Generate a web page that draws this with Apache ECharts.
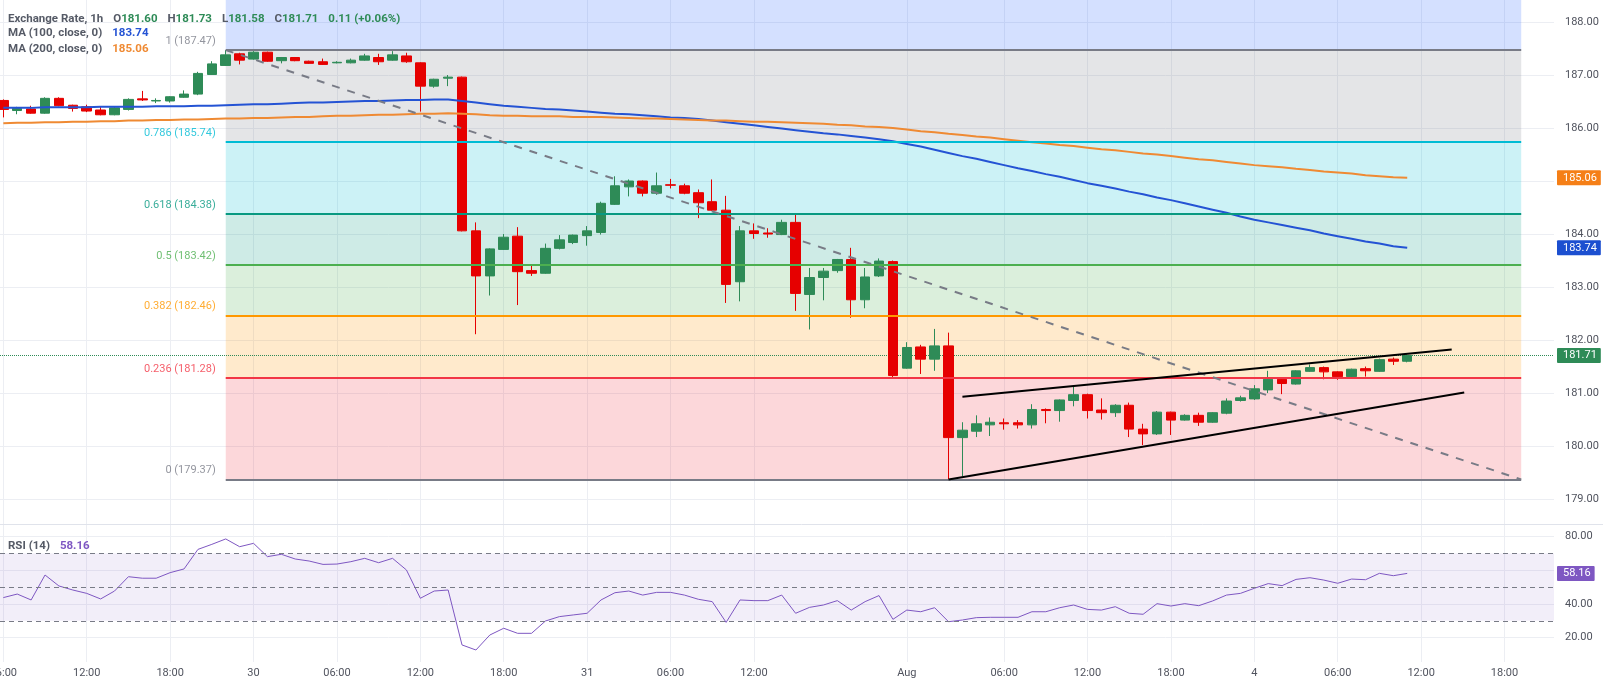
<!DOCTYPE html>
<html>
<head>
<meta charset="utf-8">
<script src="https://cdn.jsdelivr.net/npm/echarts@6/dist/echarts.min.js"></script>
<style>
html,body{margin:0;padding:0;background:#ffffff;}
#chart{width:1603px;height:682px;}
</style>
</head>
<body>
<div id="chart"></div>
<script>
// ---------- DATA ----------
const opens = [186.52,186.33,186.36,186.28,186.56,186.43,186.40,186.34,186.25,186.35,
186.55,186.51,186.51,186.58,186.64,187.01,187.18,187.40,187.30,187.43,
187.27,187.33,187.26,187.25,187.23,187.23,187.28,187.33,187.28,187.36,
187.23,186.79,186.94,186.96,184.06,183.21,183.71,183.96,183.31,183.26,
183.73,183.84,183.97,184.03,184.56,184.89,185.00,184.77,184.93,184.91,
184.78,184.61,184.45,183.10,184.06,184.02,183.99,184.22,182.86,183.18,
183.31,183.52,182.76,183.21,183.48,181.47,181.87,181.64,181.89,180.16,
180.28,180.40,180.44,180.44,180.40,180.69,180.67,180.86,180.97,180.68,
180.63,180.77,180.32,180.23,180.64,180.49,180.58,180.45,180.62,180.86,
180.89,181.06,181.26,181.17,181.41,181.48,181.40,181.31,181.46,181.41,
181.64,181.60];
const closes = [186.35,186.37,186.28,186.56,186.42,186.37,186.32,186.25,186.38,186.54,
186.53,186.52,186.59,186.64,187.03,187.21,187.38,187.28,187.43,187.26,
187.33,187.27,187.22,187.20,187.24,187.28,187.36,187.25,187.38,187.25,
186.79,186.92,186.96,184.06,183.21,183.72,183.94,183.29,183.26,183.73,
183.89,183.98,184.06,184.58,184.91,185.00,184.77,184.91,184.92,184.77,
184.59,184.45,183.05,184.06,184.01,184.00,184.22,182.88,183.18,183.30,
183.52,182.76,183.19,183.49,181.33,181.86,181.64,181.89,180.16,180.30,
180.42,180.45,180.42,180.40,180.69,180.67,180.87,180.97,180.67,180.63,
180.77,180.32,180.23,180.64,180.49,180.58,180.45,180.63,180.85,180.91,
181.08,181.26,181.18,181.42,181.48,181.40,181.31,181.45,181.42,181.63,
181.60,181.71];
const lows = [186.20,186.26,186.27,186.27,186.41,186.31,186.30,186.24,186.24,186.33,
186.51,186.47,186.48,186.57,186.62,187.00,187.17,187.20,187.29,187.25,
187.22,187.26,187.21,187.19,187.22,187.22,187.27,187.19,187.27,187.23,
186.31,186.76,186.79,184.05,182.11,182.84,183.70,182.66,183.21,183.25,
183.71,183.81,183.78,183.99,184.55,184.71,184.71,184.74,184.86,184.75,
184.30,184.44,182.70,182.73,183.91,183.93,183.98,182.55,182.20,182.75,
183.27,182.42,182.60,183.19,181.30,181.46,181.36,181.42,179.37,179.43,
180.17,180.19,180.31,180.33,180.33,180.43,180.46,180.75,180.52,180.50,
180.55,180.17,180.02,180.21,180.21,180.48,180.38,180.44,180.60,180.84,
180.87,181.00,180.98,181.16,181.40,181.26,181.25,181.28,181.31,181.40,
181.53,181.58];
const highs = [186.54,186.40,186.42,186.58,186.58,186.44,186.44,186.40,186.40,186.56,
186.70,186.56,186.60,186.71,187.06,187.26,187.47,187.42,187.45,187.44,
187.34,187.34,187.27,187.31,187.26,187.31,187.40,187.40,187.45,187.42,
187.24,186.93,187.00,186.97,184.22,183.73,184.00,184.13,183.40,183.82,
183.98,183.99,184.15,184.61,185.09,185.03,185.01,185.16,185.04,184.95,
184.84,185.03,184.72,184.15,184.20,184.11,184.27,184.36,183.36,183.36,
183.53,183.74,183.36,183.54,183.50,181.96,181.91,182.21,182.14,180.45,
180.58,180.54,180.52,180.49,180.79,180.71,180.88,181.13,180.99,180.90,
180.79,180.82,180.42,180.66,180.65,180.60,180.63,180.64,180.90,180.95,
181.15,181.42,181.29,181.43,181.54,181.50,181.41,181.46,181.50,181.65,
181.67,181.73];
const ma100 = [186.38,186.38,186.38,186.39,186.39,186.39,186.39,186.40,186.40,186.40,
186.40,186.41,186.41,186.41,186.42,186.42,186.43,186.44,186.45,186.45,
186.46,186.47,186.48,186.48,186.49,186.50,186.51,186.51,186.52,186.53,
186.53,186.54,186.54,186.51,186.48,186.45,186.42,186.40,186.38,186.36,
186.35,186.33,186.31,186.29,186.27,186.26,186.24,186.22,186.20,186.19,
186.17,186.14,186.11,186.08,186.05,186.02,185.99,185.96,185.93,185.90,
185.88,185.85,185.82,185.79,185.75,185.70,185.65,185.59,185.53,185.47,
185.42,185.36,185.30,185.24,185.19,185.13,185.08,185.02,184.96,184.91,
184.86,184.80,184.75,184.69,184.64,184.58,184.52,184.46,184.40,184.33,
184.27,184.22,184.17,184.12,184.07,184.01,183.96,183.91,183.86,183.82,
183.77,183.74];
const ma200 = [186.09,186.10,186.10,186.11,186.11,186.12,186.12,186.13,186.13,186.14,
186.14,186.15,186.15,186.16,186.16,186.17,186.18,186.18,186.19,186.19,
186.20,186.21,186.21,186.22,186.23,186.23,186.24,186.25,186.25,186.26,
186.27,186.27,186.28,186.27,186.26,186.24,186.23,186.23,186.22,186.22,
186.22,186.21,186.21,186.21,186.20,186.19,186.18,186.18,186.17,186.16,
186.15,186.14,186.14,186.13,186.12,186.12,186.11,186.10,186.09,186.08,
186.06,186.05,186.03,186.02,186.00,185.97,185.94,185.92,185.89,185.87,
185.84,185.82,185.79,185.76,185.73,185.71,185.68,185.66,185.63,185.60,
185.58,185.55,185.52,185.50,185.47,185.44,185.41,185.39,185.36,185.33,
185.30,185.28,185.26,185.23,185.21,185.18,185.16,185.14,185.11,185.09,
185.07,185.06];
const rsi14 = [43.8,45.9,42.4,57.2,50.7,48.3,46.3,43.0,47.7,56.2,
55.3,55.3,58.6,60.8,72.4,75.4,78.6,74.0,76.0,68.1,
69.5,66.7,65.5,63.5,63.7,65.1,67.1,64.5,67.1,60.2,
43.4,47.7,48.3,15.7,12.7,21.6,25.6,22.6,22.6,29.9,
32.5,33.5,34.5,42.4,46.7,47.7,45.3,46.9,46.9,45.3,
42.8,41.4,29.1,42.4,42.0,42.0,45.3,34.5,38.0,39.4,
42.0,36.4,41.4,45.0,30.9,36.4,35.4,37.8,29.5,30.5,
31.9,32.1,32.1,32.1,35.4,35.4,37.8,39.4,36.8,36.4,
38.4,34.5,33.9,40.2,38.8,40.2,39.0,41.8,45.3,46.3,
49.3,52.1,50.9,54.6,55.6,54.2,52.3,54.8,54.4,58.2,
56.8,58.16];

const timeTickBars   = [0,6,12,18,24,30,36,42,48,54,65,72,78,84,90,96,102,108];
const timeTickLabels = ['06:00','12:00','18:00','30','06:00','12:00','18:00','31','06:00','12:00','Aug','06:00','12:00','18:00','4','06:00','12:00','18:00'];
const priceGridTicks  = [179,180,181,182,183,184,185,186,187,188];
const priceLabelTicks = [179,180,181,182,183,184,186,187,188];
const rsiGridTicks  = [20,40,60,80];
const rsiLabelTicks = [20,40,80];
const rsiLevels = [70,50,30];

const fibRatios = [1,0.786,0.618,0.5,0.382,0.236,0];
const fibPrices = [187.47,185.74,184.38,183.42,182.46,181.28,179.37];
const fibExtRatio = 1.618, fibExtPrice = 192.48;
const fibStartBar = 16, fibEndBar = 109.2;
const fibDiagonal   = [[16,187.47],[109.2,179.37]];
const channelUpper  = [[69,180.93],[104.2,181.82]];
const channelLower  = [[68,179.37],[105.1,181.01]];

// ---------- STYLES / LAYOUT ----------
const UP = '#2e8b57', DOWN = '#e60000';
const C_MA100 = '#2453d4', C_MA200 = '#ef8a33', C_RSI = '#7e57c2';
const fibColors = ['#787b86','#00bcd4','#089981','#4caf50','#ff9800','#f23645','#787b86'];
const fibExtColor = '#2962ff';
const TXT = '#50535e', GRIDC = '#eceef3', FONT = 'Roboto';
const X_MIN = -0.24, X_MAX = 111.56;
const P_MIN = 178.53, P_MAX = 188.415;
const R_MIN = 5.58, R_MAX = 86.88;
const CLEAR = 'rgba(0,0,0,0)';

function rgba(hex, a){
  const n = parseInt(hex.slice(1),16);
  return `rgba(${(n>>16)&255},${(n>>8)&255},${n&255},${a})`;
}
const last = closes.length - 1;
const candles = opens.map((o,i)=>[i, o, closes[i], lows[i], highs[i]]);
const ma100Data = ma100.map((v,i)=>[i,v]);
const ma200Data = ma200.map((v,i)=>[i,v]);
const rsiData = rsi14.map((v,i)=>[i,v]);
const chg = closes[last] - closes[last-1];
const pct = chg / closes[last-1] * 100;

const areaBounds = [fibExtPrice].concat(fibPrices);
const areaColors = [fibExtColor].concat(fibColors);
const fibAreas = [];
for (let i = 0; i < areaBounds.length - 1; i++) {
  fibAreas.push([
    {coord:[fibStartBar, areaBounds[i]], itemStyle:{color: rgba(areaColors[i], 0.2)}},
    {coord:[fibEndBar, areaBounds[i+1]]}
  ]);
}
const fibLines = fibPrices.map((p,i)=>[
  {coord:[fibStartBar, p], lineStyle:{color: fibColors[i], width:2, type:'solid'}},
  {coord:[fibEndBar, p]}
]);

function tagLabel(bg, text){
  return {show:true, position:'end', distance:3, formatter: text,
    backgroundColor:bg, color:'#ffffff', fontSize:11, fontFamily:FONT,
    padding:[2,4,2,6], borderRadius:1};
}
function xAxisCfg(gi, withLabels){
  return {type:'value', gridIndex:gi, min:X_MIN, max:X_MAX,
    axisLine:{show:false}, axisTick:{show:false, customValues: timeTickBars},
    splitLine:{show:true, lineStyle:{color:GRIDC, width:1}},
    axisLabel: withLabels ? {customValues: timeTickBars, color:TXT, fontSize:11, fontFamily:FONT, margin:6,
      alignMinLabel:'center', alignMaxLabel:'center',
      formatter: v => { const k = timeTickBars.indexOf(Math.round(v)); return k >= 0 ? timeTickLabels[k] : ''; }}
      : {show:false}};
}

const chart = echarts.init(document.getElementById('chart'), null, {renderer:'canvas'});
const rich = {
  t:{color:'#555a66', fontSize:11.5, fontFamily:FONT},
  v:{color:UP, fontSize:11.5, fontFamily:FONT},
  b:{color:C_MA100, fontSize:11.5, fontFamily:FONT},
  o:{color:C_MA200, fontSize:11.5, fontFamily:FONT},
  p:{color:C_RSI, fontSize:11.5, fontFamily:FONT}
};
const f2 = v => v.toFixed(2);
chart.setOption({
  animation:false,
  backgroundColor:'#ffffff',
  title:[
    {left:3, top:5, textStyle:{rich}, text:
      `{t|Exchange Rate, 1h}  {t|O}{v|${f2(opens[last])}}  {t|H}{v|${f2(highs[last])}}  {t|L}{v|${f2(lows[last])}}  {t|C}{v|${f2(closes[last])}}  {v|${f2(chg)} (${chg>=0?'+':''}${pct.toFixed(2)}%)}`},
    {left:3, top:19, textStyle:{rich}, text:`{t|MA (100, close, 0)}  {b|${f2(ma100[last])}}`},
    {left:3, top:35, textStyle:{rich}, text:`{t|MA (200, close, 0)}  {o|${f2(ma200[last])}}`},
    {left:3, top:532, textStyle:{rich}, text:`{t|RSI (14)}  {p|${f2(rsi14[last])}}`}
  ],
  grid:[
    {left:0, right:49, top:0, height:524, outerBoundsMode:'none'},
    {left:0, right:49, top:525, height:137, outerBoundsMode:'none'}
  ],
  xAxis:[xAxisCfg(0,false), xAxisCfg(1,true)],
  yAxis:[
    {type:'value', gridIndex:0, position:'right', min:P_MIN, max:P_MAX,
      axisLine:{show:false}, axisTick:{show:false, customValues: priceGridTicks},
      splitLine:{show:true, lineStyle:{color:GRIDC}},
      axisLabel:{customValues: priceLabelTicks, formatter: v => v.toFixed(2), color:TXT, fontSize:11, fontFamily:FONT, margin:11}},
    {type:'value', gridIndex:1, position:'right', min:R_MIN, max:R_MAX,
      axisLine:{show:false}, axisTick:{show:false, customValues: rsiGridTicks},
      splitLine:{show:true, lineStyle:{color:GRIDC}},
      axisLabel:{customValues: rsiLabelTicks, formatter: v => v.toFixed(2), color:TXT, fontSize:11, fontFamily:FONT, margin:11}}
  ],
  graphic:[
    {type:'line', shape:{x1:0, y1:524.5, x2:1603, y2:524.5}, style:{stroke:'#e0e3eb', lineWidth:1}, silent:true, z:10}
  ],
  series:[
    {name:'fib', type:'scatter', xAxisIndex:0, yAxisIndex:0, z:1, symbolSize:0, silent:true,
      data: fibPrices.map((p,i)=>({value:[fibStartBar, p], label:{color: fibColors[i]}})),
      label:{show:true, position:'left', distance:10, offset:[0,-9], fontSize:11, fontFamily:FONT,
        formatter: prm => `${fibRatios[prm.dataIndex]} (${fibPrices[prm.dataIndex].toFixed(2)})`},
      markArea:{silent:true, data: fibAreas},
      markLine:{silent:true, symbol:'none', label:{show:false}, data: fibLines}
    },
    {name:'Exchange Rate', type:'candlestick', xAxisIndex:0, yAxisIndex:0, z:3,
      encode:{x:0, y:[1,2,3,4]}, barWidth:10, data:candles,
      itemStyle:{color:UP, color0:DOWN, borderColor:UP, borderColor0:DOWN, borderWidth:1},
      markLine:{silent:true, symbol:'none', z:2,
        lineStyle:{color:UP, type:'dotted', width:1},
        data:[{yAxis: closes[last]}],
        label: tagLabel(UP, f2(closes[last]))}
    },
    {name:'MA100', type:'line', xAxisIndex:0, yAxisIndex:0, z:4, data:ma100Data, showSymbol:false,
      lineStyle:{color:C_MA100, width:2}, itemStyle:{color:C_MA100},
      markLine:{silent:true, symbol:'none', lineStyle:{color:CLEAR, width:1}, data:[{yAxis: ma100[last]}],
        label: tagLabel('#1c4fd0', f2(ma100[last]))}
    },
    {name:'MA200', type:'line', xAxisIndex:0, yAxisIndex:0, z:4, data:ma200Data, showSymbol:false,
      lineStyle:{color:C_MA200, width:2}, itemStyle:{color:C_MA200},
      markLine:{silent:true, symbol:'none', lineStyle:{color:CLEAR, width:1}, data:[{yAxis: ma200[last]}],
        label: tagLabel('#f57f17', f2(ma200[last]))}
    },
    {name:'fibTrend', type:'line', xAxisIndex:0, yAxisIndex:0, z:5, data:fibDiagonal, showSymbol:false, silent:true,
      lineStyle:{color:'#787b86', width:2, type:[8,8]}},
    {name:'upper', type:'line', xAxisIndex:0, yAxisIndex:0, z:5, data:channelUpper, showSymbol:false, silent:true,
      lineStyle:{color:'#000000', width:2}},
    {name:'lower', type:'line', xAxisIndex:0, yAxisIndex:0, z:5, data:channelLower, showSymbol:false, silent:true,
      lineStyle:{color:'#000000', width:2}},
    {name:'RSI', type:'line', xAxisIndex:1, yAxisIndex:1, z:4, data:rsiData, showSymbol:false,
      lineStyle:{color:C_RSI, width:1}, itemStyle:{color:C_RSI},
      markArea:{silent:true, itemStyle:{color:'rgba(126,87,194,0.1)'}, data:[[{yAxis:rsiLevels[2]},{yAxis:rsiLevels[0]}]]},
      markLine:{silent:true, symbol:'none',
        lineStyle:{color:'#787b86', type:[5,4], width:1},
        data: rsiLevels.map(v=>({yAxis:v, label:{show:false}})).concat([
          {yAxis: rsi14[last], lineStyle:{color:CLEAR, width:1}, label: tagLabel(C_RSI, f2(rsi14[last]))}
        ])}
    }
  ]
});
</script>
</body>
</html>
